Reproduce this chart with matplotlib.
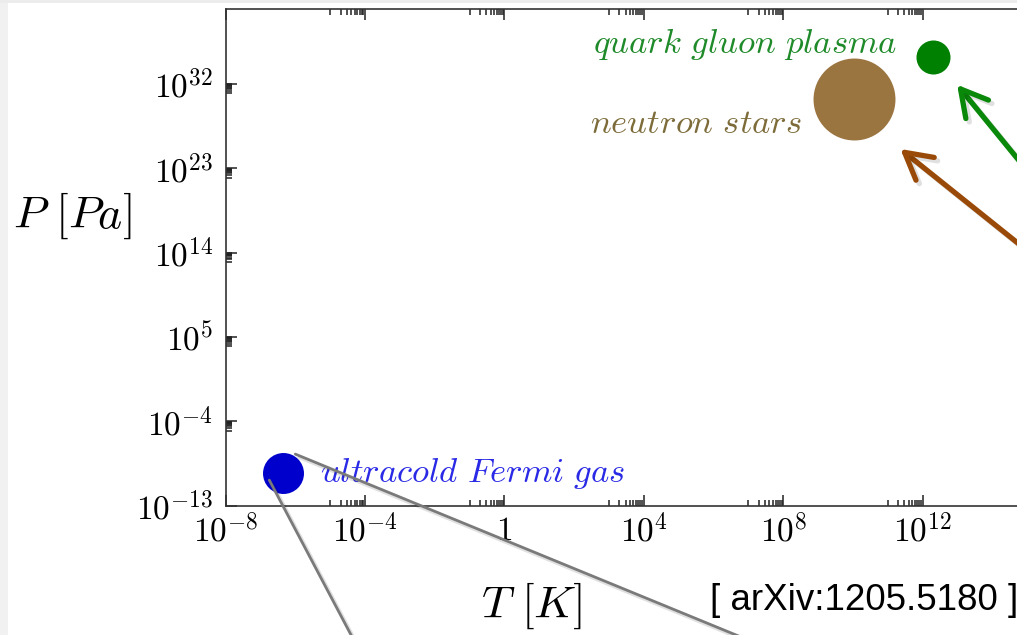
import matplotlib
matplotlib.use("Agg")
import matplotlib.pyplot as plt
import matplotlib.patheffects as pe
from matplotlib.patches import Rectangle
from matplotlib.transforms import offset_copy
import numpy as np

plt.rcParams["mathtext.fontset"] = "cm"

# states of matter: temperature (K) and pressure (Pa)
systems = [r"$ultracold\ Fermi\ gas$", r"$neutron\ stars$", r"$quark\ gluon\ plasma$"]
T = np.array([4.5e-7, 1.1e10, 2.0e12])
P = np.array([3.0e-10, 2.5e30, 8.0e34])
marker_size = [29.5, 59, 24.5]
marker_color = ["#0000cc", "#9b7540", "#008000"]
text_color = ["#2a2ae6", "#7d6c3a", "#1f8a2a"]
text_offset = [(37, 0), (-52, -24), (-36, 13)]
text_ha = ["left", "right", "right"]

xticks = [1e-8, 1e-4, 1, 1e4, 1e8, 1e12]
xticklabels = [r"$10^{-8}$", r"$10^{-4}$", r"$1$", r"$10^{4}$", r"$10^{8}$", r"$10^{12}$"]
yticks = [1e-13, 1e-4, 1e5, 1e14, 1e23, 1e32]
yticklabels = [r"$10^{-13}$", r"$10^{-4}$", r"$10^{5}$", r"$10^{14}$", r"$10^{23}$", r"$10^{32}$"]

fig = plt.figure(figsize=(10.17, 6.35), dpi=100)
ax = fig.add_axes([225.7 / 1017, 129.3 / 635, 836.3 / 1017, 496.7 / 635])
ax.set_xscale("log")
ax.set_yscale("log")
ax.set_xlim(1e-8, 1e16)
ax.set_ylim(1e-13, 1e40)

for i in range(len(T)):
    ax.plot(T[i], P[i], "o", ms=marker_size[i], color=marker_color[i], mec="none", clip_on=False)
    ax.annotate(systems[i], (T[i], P[i]), xytext=text_offset[i], textcoords="offset pixels",
                ha=text_ha[i], va="center", fontsize=25, color=text_color[i])

# minor ticks only in the decade just below each major tick
xminor = [k * t / 10 for t in xticks[1:] for k in range(1, 10)]
yminor = [k * t / 10 for t in yticks[1:] for k in range(1, 10)]
ax.set_xticks(xticks)
ax.set_xticklabels(xticklabels)
ax.set_xticks(xminor, minor=True)
ax.set_xticklabels([], minor=True)
ax.set_yticks(yticks)
ax.set_yticklabels(yticklabels)
ax.set_yticks(yminor, minor=True)
ax.set_yticklabels([], minor=True)
ax.tick_params(which="both", direction="in", top=True, right=True, width=1.1, color="#222222")
ax.tick_params(which="major", length=8, labelsize=24)
ax.tick_params(which="minor", length=4)
ax.tick_params(axis="x", which="major", pad=6)
ax.tick_params(axis="y", which="major", pad=9)
for s in ax.spines.values():
    s.set_color("#333333")
    s.set_linewidth(1.2)

ax.set_ylabel(r"$P\ [Pa]$", fontsize=33, rotation=0, ha="center", va="center")
ax.yaxis.set_label_coords(-0.184, 0.583)
ax.set_xlabel(r"$T\ [K]$", fontsize=33, ha="center", va="center")
ax.xaxis.set_label_coords(0.366, -0.201)

shadow = [pe.SimpleLineShadow(offset=(2.5, -2.5), shadow_color="k", alpha=0.12), pe.Normal()]

# slide arrows pointing at neutron stars and quark gluon plasma
arrows = [(1, (46, -50), (151, -121), "#9a4a08"), (2, (24, -28), (89, -109), "#0a880a")]
for i, head, tail, c in arrows:
    ax.annotate("", xy=(T[i], P[i]),
                xycoords=offset_copy(ax.transData, fig=fig, x=head[0], y=head[1], units="dots"),
                xytext=tail, textcoords="offset pixels", annotation_clip=False,
                arrowprops=dict(arrowstyle="->,head_length=0.9,head_width=0.5", color=c, lw=3.8,
                                shrinkA=0, shrinkB=0, mutation_scale=21, capstyle="round",
                                joinstyle="round", path_effects=shadow))

# grey callout lines from the Fermi gas point
callouts = [((12, 19), (480, -197)), ((-14, -7), (95, -180))]
for start, d in callouts:
    ax.annotate("", xy=(T[0], P[0]),
                xycoords=offset_copy(ax.transData, fig=fig, x=start[0], y=start[1], units="dots"),
                xytext=d, textcoords="offset pixels", annotation_clip=False,
                arrowprops=dict(arrowstyle="-", color="#7a7a7a", lw=2.0, shrinkA=0, shrinkB=0,
                                path_effects=shadow))

fig.text(710 / 1017, 35 / 635, "[ arXiv:1205.5180 ]", family="Liberation Sans", fontsize=26.5,
         ha="left", va="center", color="black")

# slide border
fig.add_artist(Rectangle((0, 0), 8 / 1017, 1, transform=fig.transFigure, color="#f1f1f1", lw=0))
fig.add_artist(Rectangle((0, 1 - 3 / 635), 1, 3 / 635, transform=fig.transFigure, color="#ececec", lw=0))

fig.savefig("out.png", dpi=100)
